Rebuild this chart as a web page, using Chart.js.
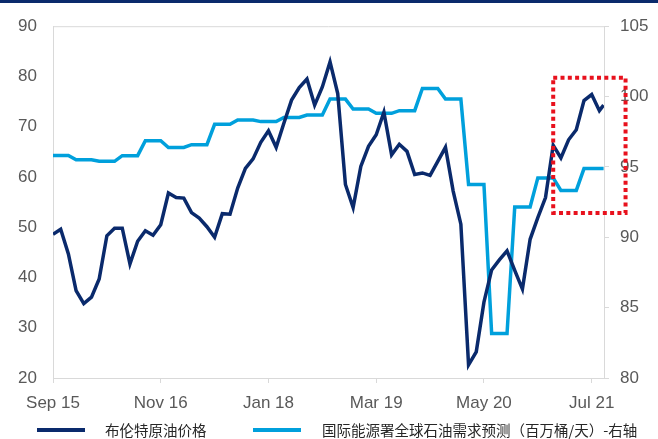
<!DOCTYPE html>
<html>
<head>
<meta charset="utf-8">
<script src="https://cdn.jsdelivr.net/npm/chart.js@4/dist/chart.umd.min.js"></script>
<style>
    html, body { margin: 0; padding: 0; background: #fff; }
    #wrap { position: relative; width: 658px; height: 439px; }
</style>
</head>
<body>
<div id="wrap"><canvas id="oilChart" width="658" height="439"></canvas></div>
<script>
// Monthly series, Sep 2015 .. Aug 2021 (last entry is a partial month)
const brentPrice = [
    48.6, 49.6, 44.7, 37.4, 34.8, 36.1, 39.7, 48.3, 49.8, 49.8, 42.7, 47.2,
    49.3, 48.4, 50.5, 56.8, 55.9, 55.8, 52.9, 51.8, 50.1, 48.0, 52.7, 52.6,
    57.8, 61.7, 63.6, 66.9, 69.2, 65.9, 70.7, 75.3, 77.8, 79.5, 74.3, 77.9,
    82.9, 76.6, 58.5, 53.9, 62.1, 66.1, 68.4, 72.9, 64.4, 66.5, 65.1, 60.5,
    60.8, 60.3, 63.1, 65.9, 57.2, 50.6, 22.6, 25.2, 35.1, 41.5, 43.5, 45.3,
    41.4, 37.7, 47.6, 51.9, 55.9, 66.3, 63.8, 67.4, 69.4, 75.2, 76.4, 73.2,
    74.3
];

// IEA global oil demand forecast, mb/d (right axis)
const ieaDemand = [
    95.82, 95.82, 95.82, 95.51, 95.51, 95.51, 95.40, 95.40, 95.40, 95.80, 95.80, 95.80,
    96.86, 96.86, 96.86, 96.38, 96.38, 96.38, 96.58, 96.58, 96.58, 98.03, 98.03, 98.03,
    98.34, 98.34, 98.34, 98.22, 98.22, 98.22, 98.52, 98.52, 98.52, 98.69, 98.69, 98.69,
    99.82, 99.82, 99.82, 99.11, 99.11, 99.11, 98.81, 98.81, 98.81, 99.00, 99.00, 99.00,
    100.57, 100.57, 100.57, 99.82, 99.82, 99.82, 93.75, 93.75, 93.75, 83.16, 83.16, 83.16,
    92.15, 92.15, 92.15, 94.22, 94.22, 94.22, 93.33, 93.33, 93.33, 94.88, 94.88, 94.88,
    94.88
];

// months since Sep 2015
const monthOffsets = [...Array(72).keys(), 71.55];

const tickMonths = [0, 14, 28, 42, 56, 70];
const tickLabels = ['Sep 15', 'Nov 16', 'Jan 18', 'Mar 19', 'May 20', 'Jul 21'];

const seriesNames = ['布伦特原油价格', '国际能源署全球石油需求预测（百万桶/天）-右轴'];
const seriesColors = ['#0a2a6c', '#00a0dc'];

// highlighted region: months, right-axis values
const highlight = { fromMonth: 65, toMonth: 74.4, high: 101.33, low: 91.72 };

const NAVY = '#0a2a6c';
const AXIS_GRAY = '#d9d9d9';
const LABEL_GRAY = '#595959';
const latin = '"Liberation Sans", Arial, sans-serif';
const cjk = '"Noto Sans CJK SC", "Liberation Sans", sans-serif';

const toPoints = (vals) => vals.map((v, i) => ({ x: monthOffsets[i], y: v }));

// thin bar across the very top plus frame line on top of the plot
const framePlugin = {
    id: 'frame',
    beforeDraw(chart) {
        const { ctx, chartArea } = chart;
        ctx.save();
        ctx.fillStyle = '#fff';
        ctx.fillRect(0, 0, chart.width, chart.height);
        ctx.fillStyle = NAVY;
        ctx.fillRect(0, 0, chart.width, 3);
        ctx.strokeStyle = AXIS_GRAY;
        ctx.lineWidth = 1;
        ctx.beginPath();
        ctx.moveTo(chartArea.left, chartArea.top + 0.5);
        ctx.lineTo(chartArea.right, chartArea.top + 0.5);
        ctx.stroke();
        ctx.restore();
    }
};

// red dotted box over the latest months
const highlightPlugin = {
    id: 'highlightBox',
    afterDatasetsDraw(chart) {
        const { ctx, scales } = chart;
        const x0 = scales.x.getPixelForValue(highlight.fromMonth);
        const x1 = scales.x.getPixelForValue(highlight.toMonth);
        const y0 = scales.y1.getPixelForValue(highlight.high);
        const y1 = scales.y1.getPixelForValue(highlight.low);
        ctx.save();
        ctx.strokeStyle = '#e8111d';
        ctx.lineWidth = 4;
        ctx.setLineDash([4, 3.3]);
        ctx.strokeRect(x0, y0, x1 - x0, y1 - y0);
        ctx.restore();
    }
};

// legend row under the axis
const legendPlugin = {
    id: 'lineLegend',
    afterDraw(chart) {
        const { ctx } = chart;
        const items = [{ x: 37, textX: 105 }, { x: 253, textX: 322 }];
        const y = 430;
        ctx.save();
        ctx.font = '14.5px ' + cjk;
        ctx.textBaseline = 'middle';
        chart.data.datasets.forEach((ds, i) => {
            ctx.fillStyle = ds.borderColor;
            ctx.fillRect(items[i].x, y - 2, 48, 4);
            ctx.fillStyle = '#262626';
            ctx.fillText(ds.label, items[i].textX, y);
        });
        ctx.restore();
    }
};

new Chart(document.getElementById('oilChart'), {
    type: 'line',
    data: {
        datasets: [
            {
                label: seriesNames[0],
                data: toPoints(brentPrice),
                borderColor: seriesColors[0],
                backgroundColor: seriesColors[0],
                borderWidth: 3.5,
                pointRadius: 0,
                yAxisID: 'y'
            },
            {
                label: seriesNames[1],
                data: toPoints(ieaDemand),
                borderColor: seriesColors[1],
                backgroundColor: seriesColors[1],
                borderWidth: 3.5,
                pointRadius: 0,
                yAxisID: 'y1'
            }
        ]
    },
    options: {
        responsive: false,
        animation: false,
        devicePixelRatio: 1,
        layout: { padding: { top: 24, left: 0, right: 0, bottom: 0 } },
        plugins: {
            legend: { display: false },
            tooltip: { enabled: false }
        },
        scales: {
            x: {
                type: 'linear',
                min: 0,
                max: 71.6,
                border: { color: AXIS_GRAY },
                grid: { drawOnChartArea: false, tickLength: 5, tickColor: AXIS_GRAY },
                afterBuildTicks: (scale) => { scale.ticks = tickMonths.map(v => ({ value: v })); },
                afterFit: (scale) => { scale.height = 61; },
                ticks: {
                    autoSkip: false,
                    maxRotation: 0,
                    padding: 10,
                    color: LABEL_GRAY,
                    font: { family: latin, size: 17 },
                    callback: (v) => tickLabels[tickMonths.indexOf(v)]
                }
            },
            y: {
                position: 'left',
                min: 20,
                max: 90,
                border: { color: AXIS_GRAY },
                grid: { drawOnChartArea: false, drawTicks: false },
                afterFit: (scale) => { scale.width = 53; },
                ticks: {
                    stepSize: 10,
                    padding: 16,
                    color: LABEL_GRAY,
                    font: { family: latin, size: 17 }
                }
            },
            y1: {
                position: 'right',
                min: 80,
                max: 105,
                border: { color: AXIS_GRAY },
                grid: { drawOnChartArea: false, tickLength: 5, tickColor: AXIS_GRAY },
                afterFit: (scale) => { scale.width = 54; },
                ticks: {
                    stepSize: 5,
                    padding: 11,
                    color: LABEL_GRAY,
                    font: { family: latin, size: 17 }
                }
            }
        }
    },
    plugins: [framePlugin, highlightPlugin, legendPlugin]
});
</script>
</body>
</html>
